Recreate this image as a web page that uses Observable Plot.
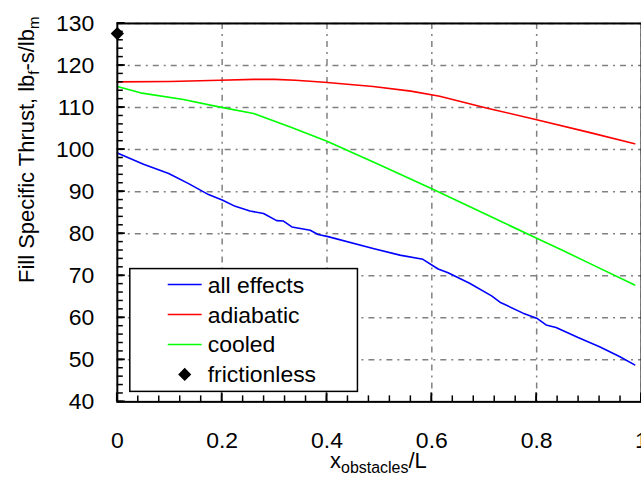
<!DOCTYPE html>
<html><head><meta charset="utf-8">
<script src="https://cdn.jsdelivr.net/npm/d3@7"></script>
<script src="https://cdn.jsdelivr.net/npm/@observablehq/plot@0.6"></script>
<style>html,body{margin:0;padding:0;overflow:hidden;background:#fff}</style>
</head><body><div id="chart"></div>
<script>
// ---- data ----
const allEffectsX = [0, 0.05, 0.098, 0.136, 0.174, 0.2, 0.225, 0.253, 0.279, 0.304, 0.317, 0.333, 0.368, 0.383, 0.402, 0.488, 0.539, 0.583, 0.612, 0.631, 0.672, 0.714, 0.73, 0.774, 0.8, 0.818, 0.837, 0.879, 0.92, 0.958, 0.987];
const allEffectsY = [99.2, 96.5, 94.3, 91.9, 89.3, 88.0, 86.5, 85.4, 84.8, 83.1, 83.0, 81.6, 80.8, 79.8, 79.3, 76.5, 74.9, 73.9, 71.6, 70.7, 68.2, 65.2, 63.7, 61.1, 59.9, 58.3, 57.7, 55.3, 53.1, 50.8, 48.8];
const adiabaticX = [0, 0.1, 0.196, 0.26, 0.30, 0.34, 0.395, 0.488, 0.56, 0.615, 0.704, 0.8, 0.9, 0.987];
const adiabaticY = [116.1, 116.2, 116.5, 116.7, 116.7, 116.5, 116.0, 115.0, 113.9, 112.7, 109.9, 107.1, 104.1, 101.4];
const cooledX = [0, 0.044, 0.126, 0.196, 0.26, 0.33, 0.40, 0.5, 0.6, 0.7, 0.8, 0.85, 0.9, 0.987];
const cooledY = [115.0, 113.5, 111.9, 110.1, 108.6, 105.4, 102.0, 96.4, 90.7, 84.8, 78.9, 76.0, 73.0, 67.8];
const frictionlessX = [0];
const frictionlessY = [127.6];

const seriesNames = ["all effects", "adiabatic", "cooled", "frictionless"];
const seriesColors = ["#0000ff", "#ff0000", "#00ff00", "#000000"];

const xTicks = [0, 0.2, 0.4, 0.6, 0.8, 1];
const xTickLabels = ["0", "0.2", "0.4", "0.6", "0.8", "1"];
const yTicks = [40, 50, 60, 70, 80, 90, 100, 110, 120, 130];
const yTickLabels = ["40", "50", "60", "70", "80", "90", "100", "110", "120", "130"];
const xMinorTicks = d3.range(0, 1.0001, 0.04).map(v => +v.toFixed(2));
const yMinorTicks = d3.range(40, 131, 2);

// ---- tables ----
const toRows = (xs, ys) => xs.map((x, i) => ({x, y: ys[i]}));
const allEffects = toRows(allEffectsX, allEffectsY);
const adiabatic = toRows(adiabaticX, adiabaticY);
const cooled = toRows(cooledX, cooledY);
const frictionless = toRows(frictionlessX, frictionlessY);

const FONT = "'Liberation Sans', Arial, sans-serif";
const W = 642, H = 477, ML = 117, MR = 0, MT = 23, MB = 75;
const xDomain = [0, 1], yDomain = [40, 130];
const gridStyle = {stroke: "#808080", strokeWidth: 1.5, strokeDasharray: "6,5,2,5"};

const plot = Plot.plot({
  width: W, height: H,
  marginLeft: ML, marginRight: MR, marginTop: MT, marginBottom: MB,
  style: {fontFamily: FONT, fontSize: "23px", color: "#000", background: "#fff", overflow: "visible"},
  x: {domain: xDomain, label: null},
  y: {domain: yDomain, label: null},
  marks: [
    Plot.ruleX(xTicks.slice(1), gridStyle),
    Plot.ruleY(yTicks.slice(1), gridStyle),
    Plot.line(allEffects, {x: "x", y: "y", stroke: seriesColors[0], strokeWidth: 1.6}),
    Plot.line(adiabatic, {x: "x", y: "y", stroke: seriesColors[1], strokeWidth: 1.6}),
    Plot.line(cooled, {x: "x", y: "y", stroke: seriesColors[2], strokeWidth: 1.6}),
    Plot.dot(frictionless, {x: "x", y: "y", symbol: "diamond2", fill: seriesColors[3], r: 6}),
    Plot.frame({stroke: "#000", strokeWidth: 2}),
    Plot.axisX({ticks: xTicks, tickSize: 0, tickPadding: 30, tickFormat: d => xTickLabels[xTicks.indexOf(d)]}),
    Plot.axisY({ticks: yTicks, tickSize: 0, tickPadding: 23, tickFormat: d => yTickLabels[yTicks.indexOf(d)]})
  ]
});
document.getElementById("chart").appendChild(plot);

const svg = d3.select(plot);
const sx = plot.scale("x"), sy = plot.scale("y");

// ---- inward tick marks, placed through Plot's own scales ----
const tk = svg.append("g").attr("stroke", "#000").attr("fill", "none");
const y0 = sy.apply(yDomain[0]), x0 = sx.apply(xDomain[0]);
xMinorTicks.forEach(v => tk.append("line").attr("x1", sx.apply(v)).attr("x2", sx.apply(v))
  .attr("y1", y0).attr("y2", y0 - 6).attr("stroke-width", 1.5));
xTicks.forEach(v => tk.append("line").attr("x1", sx.apply(v)).attr("x2", sx.apply(v))
  .attr("y1", y0).attr("y2", y0 - 9).attr("stroke-width", 1.8));
yMinorTicks.forEach(v => tk.append("line").attr("y1", sy.apply(v)).attr("y2", sy.apply(v))
  .attr("x1", x0).attr("x2", x0 + 6).attr("stroke-width", 1.5));
yTicks.forEach(v => tk.append("line").attr("y1", sy.apply(v)).attr("y2", sy.apply(v))
  .attr("x1", x0).attr("x2", x0 + 8).attr("stroke-width", 1.8));

// ---- axis titles & legend ----
const yl = svg.append("text")
  .attr("transform", "translate(34,150) rotate(-90)")
  .attr("text-anchor", "middle")
  .attr("font-family", FONT).attr("font-size", 22).attr("fill", "#000");
yl.append("tspan").text("Fill Specific Thrust, lb");
yl.append("tspan").attr("font-size", 15).attr("dy", 5).text("f");
yl.append("tspan").attr("dy", -5).text("-s/lb");
yl.append("tspan").attr("font-size", 15).attr("dy", 5).text("m");

const xl = svg.append("text")
  .attr("x", 379).attr("y", 469)
  .attr("text-anchor", "middle")
  .attr("font-family", FONT).attr("font-size", 22).attr("fill", "#000");
xl.append("tspan").text("x");
xl.append("tspan").attr("font-size", 16).attr("dy", 5).text("obstacles");
xl.append("tspan").attr("dy", -5).text("/L");

const lg = svg.append("g").attr("font-family", FONT).attr("font-size", 23).attr("text-anchor", "start");
lg.append("rect").attr("x", 130).attr("y", 269).attr("width", 228).attr("height", 123)
  .attr("fill", "#fff").attr("stroke", "#000").attr("stroke-width", 1.5);
seriesNames.forEach((name, i) => {
  const cy = 285 + i * 30;
  if (i < 3) {
    lg.append("line").attr("x1", 168).attr("x2", 202).attr("y1", cy).attr("y2", cy)
      .attr("stroke", seriesColors[i]).attr("stroke-width", 1.6);
  } else {
    lg.append("path").attr("transform", `translate(185,${cy})`)
      .attr("d", d3.symbol(d3.symbolDiamond2, 110)()).attr("fill", seriesColors[i]);
  }
  lg.append("text").attr("x", 208).attr("y", cy).attr("dy", "0.35em")
    .attr("text-anchor", "start").attr("fill", "#000").text(name);
});
</script>
</body></html>
